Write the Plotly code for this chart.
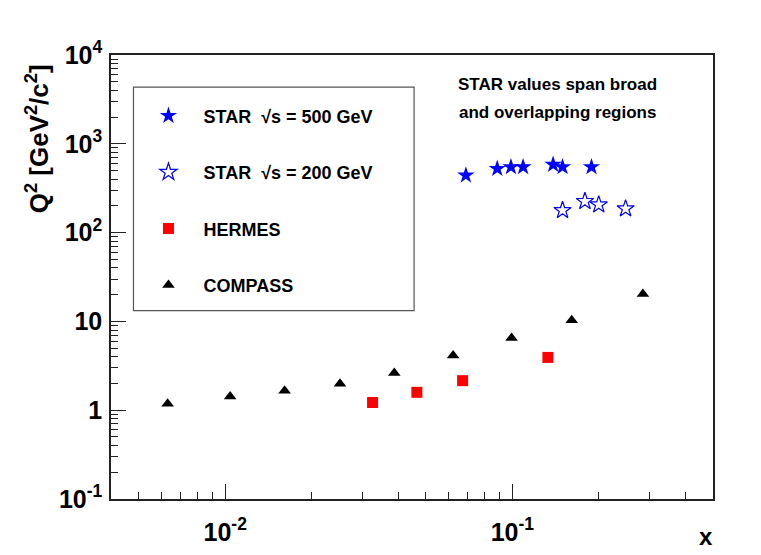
import math
import plotly.graph_objects as go

# ---- data ----
compass_x = [0.0063, 0.0104, 0.0161, 0.0251, 0.0388, 0.0622, 0.0994, 0.161, 0.285]
compass_q2 = [1.18, 1.43, 1.66, 1.99, 2.62, 4.14, 6.5, 10.3, 20.3]

hermes_x = [0.0326, 0.0465, 0.0671, 0.133]
hermes_q2 = [1.22, 1.59, 2.15, 3.93]

star500_x = [0.0689, 0.0886, 0.0989, 0.109, 0.1387, 0.1496, 0.1887]
star500_q2 = [441, 524, 548, 548, 582, 548, 548]

star200_x = [0.1496, 0.179, 0.200, 0.248]
star200_q2 = [178, 225, 206, 186]

x_tickvals = [0.01, 0.1]
x_ticktext = ["10<sup>-2</sup>", "10<sup>-1</sup>"]
y_tickvals = [0.1, 1, 10, 100, 1000, 10000]
y_ticktext = ["10<sup>-1</sup>", "1", "10", "10<sup>2</sup>", "10<sup>3</sup>", "10<sup>4</sup>"]

x_range = (0.004, 0.5)
y_range = (0.1, 1e4)

FONT = "Liberation Sans, Arial, Helvetica, sans-serif"

fig = go.Figure()

fig.add_trace(go.Scatter(
    x=star500_x, y=star500_q2, mode="markers", name="STAR  √s = 500 GeV",
    legendgroup="g1",
    marker=dict(symbol="star", size=13, color="#0000ff", line=dict(width=0))))
fig.add_trace(go.Scatter(
    x=star200_x, y=star200_q2, mode="markers", name="STAR  √s = 200 GeV",
    legendgroup="g2",
    marker=dict(symbol="star-open", size=13, color="#0000ff", line=dict(width=1.2, color="#0000ff"))))
fig.add_trace(go.Scatter(
    x=hermes_x, y=hermes_q2, mode="markers", name="HERMES",
    legendgroup="g3",
    marker=dict(symbol="square", size=11, color="#ff0000", line=dict(width=0))))
fig.add_trace(go.Scatter(
    x=compass_x, y=compass_q2, mode="markers", name="COMPASS",
    legendgroup="g4",
    marker=dict(symbol="triangle-up", size=11, color="#000000", line=dict(width=0))))

x_minor = [m * 10 ** e for e in (-3, -2, -1) for m in range(2, 10)
           if x_range[0] < m * 10 ** e < x_range[1]]
y_minor = [m * 10 ** e for e in range(-1, 4) for m in range(2, 10)]

axis_common = dict(
    type="log", showline=True, linecolor="#222222", linewidth=1.5, mirror=True,
    ticks="inside", ticklen=15, tickwidth=1, tickcolor="#222222",
    showgrid=False, zeroline=False, automargin=False,
    tickfont=dict(family=FONT, size=25, color="black", weight="bold"),
)

fig.update_xaxes(
    range=[math.log10(x_range[0]), math.log10(x_range[1])],
    tickmode="array", tickvals=x_tickvals, ticktext=x_ticktext,
    ticklabelstandoff=10,
    minor=dict(tickmode="array", tickvals=x_minor, ticks="inside", ticklen=7,
               tickwidth=1, tickcolor="#222222", showgrid=False),
    **axis_common)
fig.update_yaxes(
    range=[math.log10(y_range[0]), math.log10(y_range[1])],
    tickmode="array", tickvals=y_tickvals, ticktext=y_ticktext,
    ticklabelstandoff=2,
    minor=dict(tickmode="array", tickvals=y_minor, ticks="inside", ticklen=7,
               tickwidth=1, tickcolor="#222222", showgrid=False),
    **axis_common)

# figure size: the page adds an 8px body margin on the left/top
W, H = 753, 547
OFF = 8  # body margin offset on screen
# plot frame in screen pixels: left 110.5, right 713.3, top 55.3, bottom 499.3
L = 110.5 - OFF
T = 55.3 - OFF
R = W - (713.3 - OFF)
B = H - (499.3 - OFF)
pw = W - L - R
ph = H - T - B


def sx(px):
    """screen x pixel -> paper x"""
    return (px - OFF - L) / pw


def sy(py):
    """screen y pixel -> paper y"""
    return (H - B - (py - OFF)) / ph


shapes = [
    # legend box
    dict(type="rect", xref="paper", yref="paper",
         x0=sx(133), x1=sx(414), y0=sy(311), y1=sy(87.5),
         fillcolor="white", line=dict(color="#555555", width=1.2), layer="above"),
]

annotations = [
    dict(text="STAR values span broad", xref="paper", yref="paper",
         x=sx(558), y=sy(85), xanchor="center", yanchor="middle",
         showarrow=False, font=dict(family=FONT, size=17, color="black", weight="bold")),
    dict(text="and overlapping regions", xref="paper", yref="paper",
         x=sx(558), y=sy(113), xanchor="center", yanchor="middle",
         showarrow=False, font=dict(family=FONT, size=17, color="black", weight="bold")),
    dict(text="Q<sup>2</sup> [GeV<sup>2</sup>/c<sup>2</sup>]", xref="paper", yref="paper",
         x=sx(37), y=sy(139), xanchor="center", yanchor="middle",
         textangle=-90, showarrow=False,
         font=dict(family=FONT, size=26, color="black", weight="bold")),
    dict(text="x", xref="paper", yref="paper",
         x=sx(706.7), y=sy(536.7), xanchor="center", yanchor="middle",
         showarrow=False, font=dict(family=FONT, size=24, color="black", weight="bold")),
]

fig.update_layout(
    width=W, height=H,
    margin=dict(l=L, r=R, t=T, b=B, pad=0, autoexpand=False),
    paper_bgcolor="white", plot_bgcolor="white",
    font=dict(family=FONT, color="black"),
    shapes=shapes, annotations=annotations,
    showlegend=True,
    legend=dict(
        x=sx(133), y=sy(97.8), xanchor="left", yanchor="top",
        bgcolor="rgba(0,0,0,0)", borderwidth=0,
        font=dict(family=FONT, size=18, color="black", weight="bold"),
        itemwidth=60, traceorder="grouped", tracegroupgap=30,
    ),
)

fig.write_html("out.html")
